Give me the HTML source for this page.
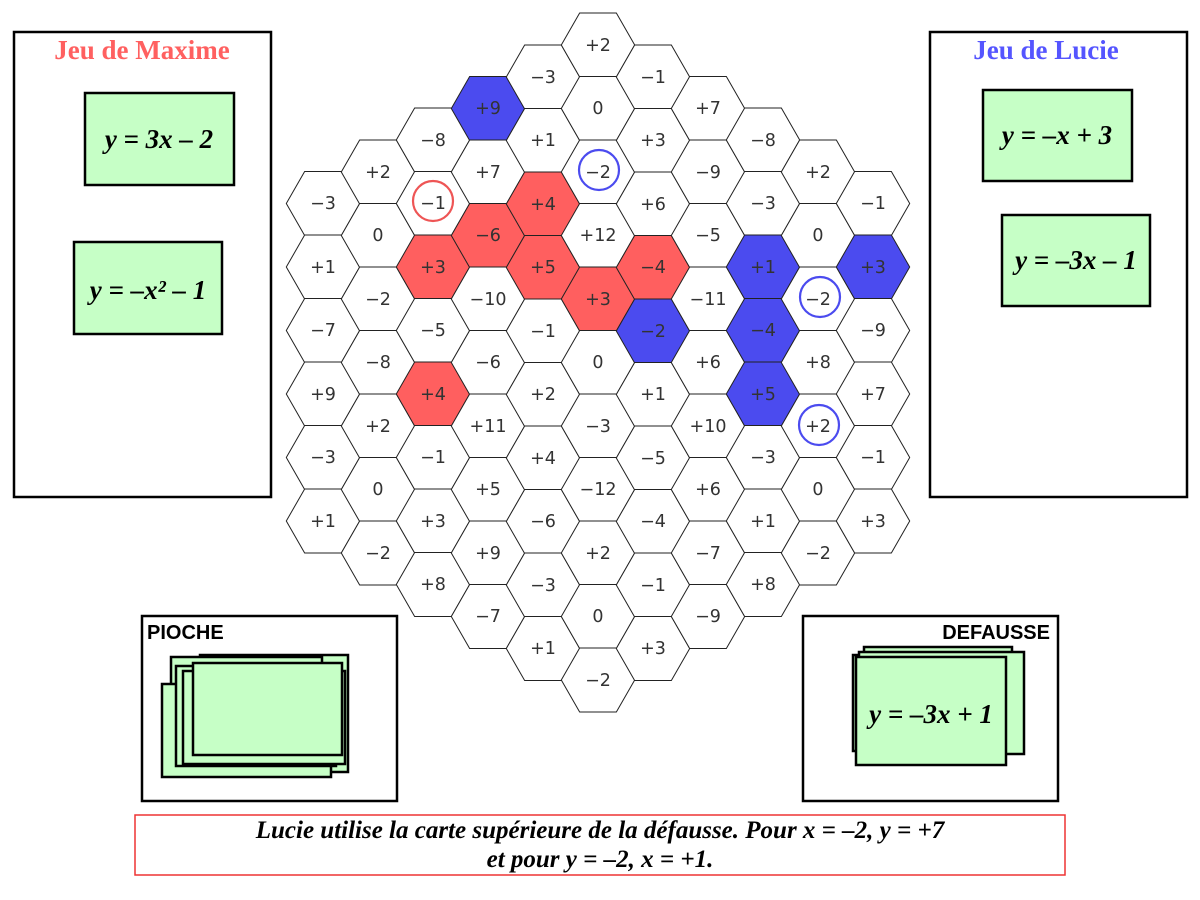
<!DOCTYPE html>
<html><head><meta charset="utf-8"><style>
html,body{margin:0;padding:0;background:#fff;}
svg{display:block;}
.n{font-family:"DejaVu Sans",sans-serif;font-size:17.5px;fill:#333;text-anchor:middle;}
.eq{font-family:"Liberation Serif",serif;font-weight:bold;font-style:italic;font-size:27px;fill:#000;text-anchor:middle;}
.card{fill:#c6ffc6;stroke:#000;stroke-width:2.5;}
</style></head><body>
<svg width="1200" height="900" viewBox="0 0 1200 900" xmlns="http://www.w3.org/2000/svg">
<defs><polygon id="h" points="-36.7,0 -18.35,-32 18.35,-32 36.7,0 18.35,32 -18.35,32" stroke="#222" stroke-width="1"/></defs>
<g fill="#fff">
<use href="#h" x="323" y="203.5" fill="#fff"/><use href="#h" x="323" y="267" fill="#fff"/><use href="#h" x="323" y="330.5" fill="#fff"/><use href="#h" x="323" y="394" fill="#fff"/><use href="#h" x="323" y="457.5" fill="#fff"/><use href="#h" x="323" y="521" fill="#fff"/>
<use href="#h" x="378" y="172" fill="#fff"/><use href="#h" x="378" y="235.5" fill="#fff"/><use href="#h" x="378" y="299" fill="#fff"/><use href="#h" x="378" y="362.5" fill="#fff"/><use href="#h" x="378" y="426" fill="#fff"/><use href="#h" x="378" y="489.5" fill="#fff"/><use href="#h" x="378" y="553" fill="#fff"/>
<use href="#h" x="433" y="140" fill="#fff"/><use href="#h" x="433" y="203.5" fill="#fff"/><use href="#h" x="433" y="267" fill="#ff5f5f"/><use href="#h" x="433" y="330.5" fill="#fff"/><use href="#h" x="433" y="394" fill="#ff5f5f"/><use href="#h" x="433" y="457.5" fill="#fff"/><use href="#h" x="433" y="521" fill="#fff"/><use href="#h" x="433" y="584.5" fill="#fff"/>
<use href="#h" x="488" y="108.5" fill="#4b4bef"/><use href="#h" x="488" y="172" fill="#fff"/><use href="#h" x="488" y="235.5" fill="#ff5f5f"/><use href="#h" x="488" y="299" fill="#fff"/><use href="#h" x="488" y="362.5" fill="#fff"/><use href="#h" x="488" y="426" fill="#fff"/><use href="#h" x="488" y="489.5" fill="#fff"/><use href="#h" x="488" y="553" fill="#fff"/><use href="#h" x="488" y="616.5" fill="#fff"/>
<use href="#h" x="543" y="77" fill="#fff"/><use href="#h" x="543" y="140.5" fill="#fff"/><use href="#h" x="543" y="204" fill="#ff5f5f"/><use href="#h" x="543" y="267.5" fill="#ff5f5f"/><use href="#h" x="543" y="331" fill="#fff"/><use href="#h" x="543" y="394.5" fill="#fff"/><use href="#h" x="543" y="458" fill="#fff"/><use href="#h" x="543" y="521.5" fill="#fff"/><use href="#h" x="543" y="585" fill="#fff"/><use href="#h" x="543" y="648.5" fill="#fff"/>
<use href="#h" x="598" y="45" fill="#fff"/><use href="#h" x="598" y="108.5" fill="#fff"/><use href="#h" x="598" y="172" fill="#fff"/><use href="#h" x="598" y="235.5" fill="#fff"/><use href="#h" x="598" y="299" fill="#ff5f5f"/><use href="#h" x="598" y="362.5" fill="#fff"/><use href="#h" x="598" y="426" fill="#fff"/><use href="#h" x="598" y="489.5" fill="#fff"/><use href="#h" x="598" y="553" fill="#fff"/><use href="#h" x="598" y="616.5" fill="#fff"/><use href="#h" x="598" y="680" fill="#fff"/>
<use href="#h" x="653" y="77" fill="#fff"/><use href="#h" x="653" y="140.5" fill="#fff"/><use href="#h" x="653" y="204" fill="#fff"/><use href="#h" x="653" y="267.5" fill="#ff5f5f"/><use href="#h" x="653" y="331" fill="#4b4bef"/><use href="#h" x="653" y="394.5" fill="#fff"/><use href="#h" x="653" y="458" fill="#fff"/><use href="#h" x="653" y="521.5" fill="#fff"/><use href="#h" x="653" y="585" fill="#fff"/><use href="#h" x="653" y="648.5" fill="#fff"/>
<use href="#h" x="708" y="108.5" fill="#fff"/><use href="#h" x="708" y="172" fill="#fff"/><use href="#h" x="708" y="235.5" fill="#fff"/><use href="#h" x="708" y="299" fill="#fff"/><use href="#h" x="708" y="362.5" fill="#fff"/><use href="#h" x="708" y="426" fill="#fff"/><use href="#h" x="708" y="489.5" fill="#fff"/><use href="#h" x="708" y="553" fill="#fff"/><use href="#h" x="708" y="616.5" fill="#fff"/>
<use href="#h" x="763" y="140" fill="#fff"/><use href="#h" x="763" y="203.5" fill="#fff"/><use href="#h" x="763" y="267" fill="#4b4bef"/><use href="#h" x="763" y="330.5" fill="#4b4bef"/><use href="#h" x="763" y="394" fill="#4b4bef"/><use href="#h" x="763" y="457.5" fill="#fff"/><use href="#h" x="763" y="521" fill="#fff"/><use href="#h" x="763" y="584.5" fill="#fff"/>
<use href="#h" x="818" y="172" fill="#fff"/><use href="#h" x="818" y="235.5" fill="#fff"/><use href="#h" x="818" y="299" fill="#fff"/><use href="#h" x="818" y="362.5" fill="#fff"/><use href="#h" x="818" y="426" fill="#fff"/><use href="#h" x="818" y="489.5" fill="#fff"/><use href="#h" x="818" y="553" fill="#fff"/>
<use href="#h" x="873" y="203.5" fill="#fff"/><use href="#h" x="873" y="267" fill="#4b4bef"/><use href="#h" x="873" y="330.5" fill="#fff"/><use href="#h" x="873" y="394" fill="#fff"/><use href="#h" x="873" y="457.5" fill="#fff"/><use href="#h" x="873" y="521" fill="#fff"/>
</g>
<g fill="none" stroke-width="2.2">
<circle cx="433" cy="201" r="20" stroke="#ee5555"/>
<circle cx="599" cy="170" r="20" stroke="#4b4bef"/>
<circle cx="820" cy="297" r="20" stroke="#4b4bef"/>
<circle cx="819" cy="425" r="20" stroke="#4b4bef"/>
</g>
<g class="n">
<text x="323" y="209">−3</text><text x="323" y="273">+1</text><text x="323" y="336">−7</text><text x="323" y="400">+9</text><text x="323" y="463">−3</text><text x="323" y="527">+1</text>
<text x="378" y="178">+2</text><text x="378" y="241">0</text><text x="378" y="305">−2</text><text x="378" y="368">−8</text><text x="378" y="432">+2</text><text x="378" y="495">0</text><text x="378" y="559">−2</text>
<text x="433" y="146">−8</text><text x="433" y="209">−1</text><text x="433" y="273">+3</text><text x="433" y="336">−5</text><text x="433" y="400">+4</text><text x="433" y="463">−1</text><text x="433" y="527">+3</text><text x="433" y="590">+8</text>
<text x="488" y="114">+9</text><text x="488" y="178">+7</text><text x="488" y="241">−6</text><text x="488" y="305">−10</text><text x="488" y="368">−6</text><text x="488" y="432">+11</text><text x="488" y="495">+5</text><text x="488" y="559">+9</text><text x="488" y="622">−7</text>
<text x="543" y="83">−3</text><text x="543" y="146">+1</text><text x="543" y="210">+4</text><text x="543" y="273">+5</text><text x="543" y="337">−1</text><text x="543" y="400">+2</text><text x="543" y="464">+4</text><text x="543" y="527">−6</text><text x="543" y="591">−3</text><text x="543" y="654">+1</text>
<text x="598" y="51">+2</text><text x="598" y="114">0</text><text x="598" y="178">−2</text><text x="598" y="241">+12</text><text x="598" y="305">+3</text><text x="598" y="368">0</text><text x="598" y="432">−3</text><text x="598" y="495">−12</text><text x="598" y="559">+2</text><text x="598" y="622">0</text><text x="598" y="686">−2</text>
<text x="653" y="83">−1</text><text x="653" y="146">+3</text><text x="653" y="210">+6</text><text x="653" y="273">−4</text><text x="653" y="337">−2</text><text x="653" y="400">+1</text><text x="653" y="464">−5</text><text x="653" y="527">−4</text><text x="653" y="591">−1</text><text x="653" y="654">+3</text>
<text x="708" y="114">+7</text><text x="708" y="178">−9</text><text x="708" y="241">−5</text><text x="708" y="305">−11</text><text x="708" y="368">+6</text><text x="708" y="432">+10</text><text x="708" y="495">+6</text><text x="708" y="559">−7</text><text x="708" y="622">−9</text>
<text x="763" y="146">−8</text><text x="763" y="209">−3</text><text x="763" y="273">+1</text><text x="763" y="336">−4</text><text x="763" y="400">+5</text><text x="763" y="463">−3</text><text x="763" y="527">+1</text><text x="763" y="590">+8</text>
<text x="818" y="178">+2</text><text x="818" y="241">0</text><text x="818" y="305">−2</text><text x="818" y="368">+8</text><text x="818" y="432">+2</text><text x="818" y="495">0</text><text x="818" y="559">−2</text>
<text x="873" y="209">−1</text><text x="873" y="273">+3</text><text x="873" y="336">−9</text><text x="873" y="400">+7</text><text x="873" y="463">−1</text><text x="873" y="527">+3</text>
</g>
<rect x="14" y="32" width="257" height="465" fill="none" stroke="#000" stroke-width="2.5"/>
<text x="142" y="59" font-family="Liberation Serif,serif" font-weight="bold" font-size="27" fill="#ff6060" text-anchor="middle">Jeu de Maxime</text>
<rect class="card" x="85" y="93" width="149" height="92"/>
<text class="eq" x="159" y="148">y = 3x – 2</text>
<rect class="card" x="74" y="242" width="148" height="92"/>
<text class="eq" x="148" y="299">y = –x² – 1</text>
<rect x="930" y="32" width="257" height="465" fill="none" stroke="#000" stroke-width="2.5"/>
<text x="1046" y="59" font-family="Liberation Serif,serif" font-weight="bold" font-size="27" fill="#5555ff" text-anchor="middle">Jeu de Lucie</text>
<rect class="card" x="983" y="90" width="149" height="91"/>
<text class="eq" x="1057" y="144">y = –x + 3</text>
<rect class="card" x="1002" y="215" width="148" height="91"/>
<text class="eq" x="1076" y="269">y = –3x – 1</text>
<rect x="142" y="616" width="255" height="185" fill="none" stroke="#000" stroke-width="2.5"/>
<text x="147" y="639" font-family="Liberation Sans,sans-serif" font-weight="bold" font-size="20" fill="#000">PIOCHE</text>
<rect class="card" x="200" y="655" width="148" height="117"/>
<rect class="card" x="171" y="657" width="151" height="93"/>
<rect class="card" x="162" y="684" width="169" height="93"/>
<rect class="card" x="176" y="666" width="160" height="100"/>
<rect class="card" x="183" y="671" width="162" height="93"/>
<rect class="card" x="193" y="663" width="149" height="92"/>
<rect x="803" y="616" width="255" height="185" fill="none" stroke="#000" stroke-width="2.5"/>
<text x="1050" y="639" font-family="Liberation Sans,sans-serif" font-weight="bold" font-size="20" fill="#000" text-anchor="end">DEFAUSSE</text>
<rect class="card" x="864" y="647" width="148" height="100"/>
<rect class="card" x="853" y="655" width="160" height="96"/>
<rect class="card" x="859" y="652" width="165" height="102"/>
<rect class="card" x="856" y="657" width="150" height="108"/>
<text class="eq" x="931" y="723">y = –3x + 1</text>
<rect x="135" y="815" width="930" height="60" fill="#fff" stroke="#ee3333" stroke-width="1.5"/>
<text x="600" y="838" font-family="Liberation Serif,serif" font-weight="bold" font-style="italic" font-size="25" text-anchor="middle">Lucie utilise la carte supérieure de la défausse. Pour x = –2, y = +7</text>
<text x="600" y="867" font-family="Liberation Serif,serif" font-weight="bold" font-style="italic" font-size="25" text-anchor="middle">et pour y = –2, x = +1.</text>
</svg>
</body></html>
